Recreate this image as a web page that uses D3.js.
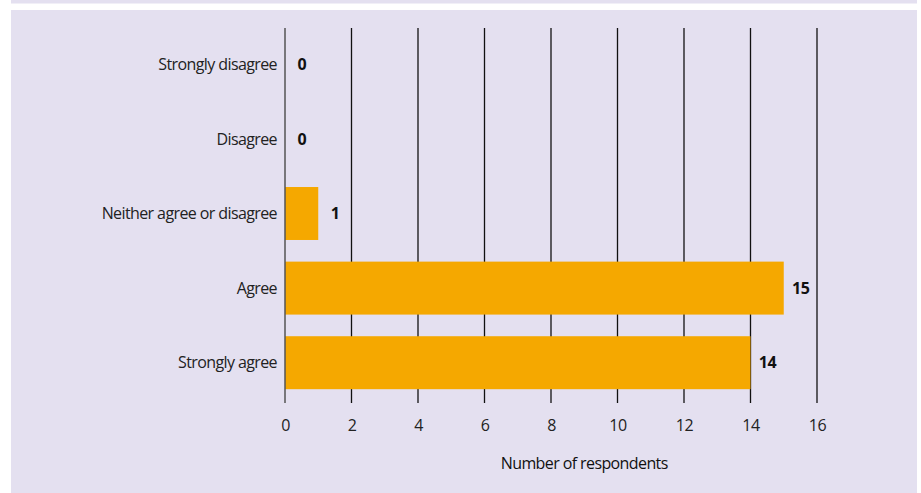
<!DOCTYPE html>
<html><head><meta charset="utf-8">
<script src="https://cdn.jsdelivr.net/npm/d3@7"></script>
<style>
body{margin:0;background:#fff;}
svg{display:block;font-family:"Open Sans",sans-serif;}
</style></head>
<body><svg id="c" width="921" height="493"></svg>
<script>
const categories = ["Strongly disagree","Disagree","Neither agree or disagree","Agree","Strongly agree"];
const values = [0,0,1,15,14];
const tickValues = [0,2,4,6,8,10,12,14,16];
const axisTitle = "Number of respondents";

const svg = d3.select("#c");
const bg = "#e4e0f0";
svg.append("rect").attr("x",11).attr("y",0).attr("width",906).attr("height",3.5).attr("fill",bg);
svg.append("rect").attr("x",11).attr("y",10).attr("width",906).attr("height",483).attr("fill",bg);

const x = d3.scaleLinear().domain([0,16]).range([285,817]);
const y = d3.scaleBand().domain(categories).range([27,400]).paddingInner(0.29).paddingOuter(0.145);

// gridlines
svg.append("g").selectAll("line").data(tickValues.filter(d=>d>0)).join("line")
  .attr("x1",d=>x(d)).attr("x2",d=>x(d)).attr("y1",28).attr("y2",403)
  .attr("stroke","#111").attr("stroke-width",1.3);

// bars
svg.append("g").selectAll("rect").data(values).join("rect")
  .attr("x",x(0)).attr("y",(d,i)=>y(categories[i]))
  .attr("width",d=>x(d)-x(0)).attr("height",y.bandwidth())
  .attr("fill","#f5a800");

// y axis line
svg.append("line").attr("x1",x(0)).attr("x2",x(0)).attr("y1",28).attr("y2",403)
  .attr("stroke","#555").attr("stroke-width",1.5);

// category labels
svg.append("g").selectAll("text").data(categories).join("text")
  .attr("x",277).attr("y",d=>y(d)+y.bandwidth()/2).attr("dy","0.35em")
  .attr("text-anchor","end").attr("font-size",16).attr("fill","#222")
  .attr("letter-spacing","-0.6").text(d=>d);

// value labels
svg.append("g").selectAll("text").data(values).join("text")
  .attr("x",d=>x(d)+17).attr("y",(d,i)=>y(categories[i])+y.bandwidth()/2).attr("dy","0.35em")
  .attr("text-anchor","middle").attr("font-size",16).attr("font-weight","bold").attr("fill","#111")
  .attr("letter-spacing","-0.3").text(d=>d);

// x axis ticks and labels
const xa = d3.axisBottom(x).tickValues(tickValues).tickSize(0).tickPadding(0);
const g = svg.append("g").attr("transform","translate(0,425)").call(xa);
g.select(".domain").remove();
g.selectAll("text").attr("dy","0.35em").attr("font-size",16).attr("font-family","Open Sans, sans-serif")
  .attr("fill","#222").attr("letter-spacing","-0.5");

svg.append("text").attr("x",x(9)).attr("y",463).attr("dy","0.35em").attr("text-anchor","middle")
  .attr("font-size",16).attr("fill","#111").attr("letter-spacing","-0.6").text(axisTitle);
</script></body></html>
